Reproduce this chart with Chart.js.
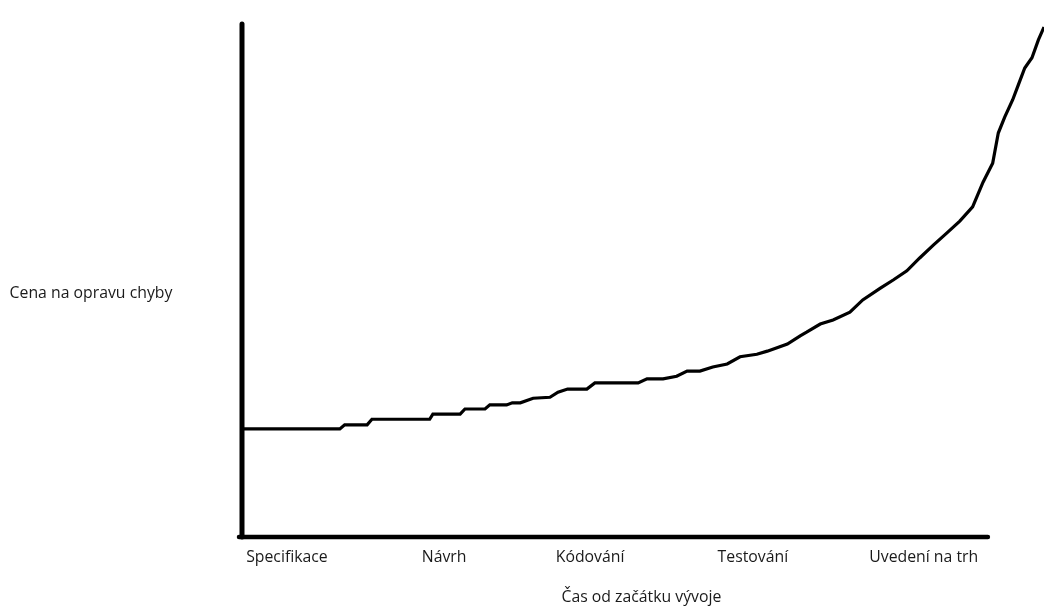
<!DOCTYPE html>
<html>
<head>
<meta charset="utf-8">
<script src="https://cdn.jsdelivr.net/npm/chart.js@4"></script>
<style>
  html, body { margin: 0; padding: 0; background: #fff; }
  #wrap { width: 1044px; height: 606px; }
</style>
</head>
<body>
<div id="wrap"><canvas id="chart"></canvas></div>
<script>
// faze vyvoje a jejich pozice na ose casu (0-100)
var phases = ['Specifikace', 'Návrh', 'Kódování', 'Testování', 'Uvedení na trh']
var phasePos = [5.6, 25.2, 43.4, 63.7, 85.0]

// cas od zacatku vyvoje (0-100) a cena na opravu chyby (0-100)
var time = [0, 12.2, 12.8, 15.6, 16.2, 23.4, 23.8, 27.2, 27.8, 30.3, 30.9, 33.0, 33.7, 34.7,
  36.3, 38.4, 39.4, 40.6, 43.0, 44.0, 49.4, 50.5, 52.5, 54.2, 55.5, 57.1, 58.7, 60.5,
  62.1, 64.2, 65.5, 68.0, 69.6, 70.4, 72.1, 73.7, 75.8, 77.4, 79.6, 81.2, 82.9, 84.5,
  86.2, 87.9, 89.5, 91.1, 92.4, 93.6, 94.3, 95.1, 96.1, 96.8, 97.6, 98.5, 99.3, 100]
var cost = [21.1, 21.1, 21.9, 21.9, 23.0, 23.0, 24.0, 24.0, 25.0, 25.0, 25.8, 25.8, 26.2, 26.2,
  27.1, 27.3, 28.3, 28.9, 28.9, 30.1, 30.1, 30.9, 30.9, 31.4, 32.4, 32.4, 33.2, 33.8,
  35.2, 35.7, 36.3, 37.7, 39.3, 40.0, 41.6, 42.4, 43.9, 46.3, 48.6, 50.2, 52.0, 54.5,
  57.0, 59.4, 61.7, 64.5, 69.3, 73.0, 78.9, 82.0, 85.4, 88.3, 91.6, 93.6, 97.1, 99.6]

var xAxisEnd = 93.0
var xTitle = 'Čas od začátku vývoje'
var yTitle = 'Cena na opravu chyby'

var points = time.map(function(t, i){ return {x: t, y: cost[i]} })

var fontFam = '"Open Sans", sans-serif'

var axesPlugin = {
  id: 'handAxes',
  beforeDatasetsDraw: function(chart){
    var ctx = chart.ctx
    var xs = chart.scales.x, ys = chart.scales.y
    var x0 = xs.getPixelForValue(0), y0 = ys.getPixelForValue(0)
    ctx.save()
    ctx.strokeStyle = '#000'
    ctx.lineCap = 'round'
    // osa y
    ctx.lineWidth = 5
    ctx.beginPath()
    ctx.moveTo(x0, y0)
    ctx.lineTo(x0, ys.getPixelForValue(100) - 1)
    ctx.stroke()
    // osa x
    ctx.lineWidth = 4.5
    ctx.beginPath()
    ctx.moveTo(x0 - 3, y0)
    ctx.lineTo(xs.getPixelForValue(xAxisEnd), y0)
    ctx.stroke()
    ctx.restore()
  },
  afterDraw: function(chart){
    var ctx = chart.ctx
    var xs = chart.scales.x, ys = chart.scales.y
    var y0 = ys.getPixelForValue(0)
    ctx.save()
    ctx.fillStyle = '#1a1a1a'
    ctx.font = '15.8px ' + fontFam
    ctx.textAlign = 'center'
    ctx.textBaseline = 'middle'
    for(let i=0 ; i<phases.length ; i++){
      ctx.fillText(phases[i], xs.getPixelForValue(phasePos[i]), y0 + 20)
    }
    ctx.fillText(xTitle, xs.getPixelForValue(49.8), y0 + 60)
    ctx.fillText(yTitle, 91, ys.getPixelForValue(47.5))
    ctx.restore()
  }
}

var ctx = document.getElementById('chart').getContext('2d')
var myChart = new Chart(ctx, {
  type: 'line',
  data: {
    datasets: [{
      data: points,
      borderColor: '#000',
      borderWidth: 3.2,
      pointRadius: 0,
      tension: 0,
      fill: false,
      clip: false
    }]
  },
  options: {
    responsive: true,
    maintainAspectRatio: false,
    animation: false,
    layout: { padding: { left: 242, top: 25, right: 0, bottom: 69 } },
    plugins: { legend: { display: false }, tooltip: { enabled: false } },
    scales: {
      x: { type: 'linear', min: 0, max: 100, display: false },
      y: { type: 'linear', min: 0, max: 100, display: false }
    }
  },
  plugins: [axesPlugin]
})
</script>
</body>
</html>
